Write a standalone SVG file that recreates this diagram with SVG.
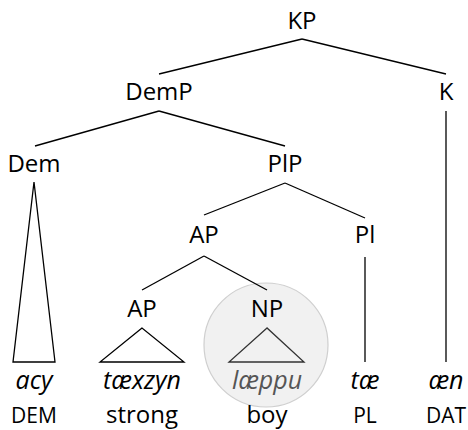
<svg xmlns="http://www.w3.org/2000/svg" width="468" height="430" viewBox="0 0 468 430">
<style>
text{font-family:"Open Sans","Noto Sans","DejaVu Sans",sans-serif;font-size:24px;fill:#000;text-anchor:middle}
.w{font-style:italic;font-size:25px}
.sc{font-size:21px}
.e{fill:none;stroke:#000;stroke-width:1.3}
</style>
<rect width="468" height="430" fill="#fff"/>
<circle id="highlight" cx="266" cy="345" r="62" fill="#f1f1f1" stroke="#cfcfcf" stroke-width="1.2"/>
<g id="edges" class="e">
<line x1="302" y1="39" x2="159" y2="74"/>
<line x1="302" y1="39" x2="446" y2="74"/>
<line x1="159" y1="111" x2="35" y2="146"/>
<line x1="159" y1="111" x2="285" y2="146"/>
<line x1="285" y1="183" x2="204" y2="215"/>
<line x1="285" y1="183" x2="365" y2="218"/>
<line x1="204" y1="256" x2="142" y2="290"/>
<line x1="204" y1="256" x2="267" y2="290"/>
<line x1="365" y1="257" x2="365" y2="362"/>
<line x1="446" y1="111" x2="446" y2="362"/>
<polygon points="34,182 13,362 55,362"/>
<polygon points="142,328 100,362 184,362"/>
<polygon points="267,328 229,362 304,362" stroke="#333"/>
</g>
<g id="KP"><text x="302" y="29">KP</text></g>
<g id="DemP"><text x="159" y="100">DemP</text></g>
<g id="K"><text x="446" y="100">K</text></g>
<g id="Dem"><text x="34" y="172">Dem</text></g>
<g id="PlP"><text x="285" y="172">PlP</text></g>
<g id="AP1"><text x="204" y="243">AP</text></g>
<g id="Pl"><text x="365" y="243">Pl</text></g>
<g id="AP2"><text x="142" y="317">AP</text></g>
<g id="NP"><text x="267" y="317">NP</text></g>
<g id="words">
<text class="w" x="34" y="389">acy</text>
<text class="w" x="142" y="389">tæxzyn</text>
<text class="w" x="267" y="389" style="fill:#555">læppu</text>
<text class="w" x="365" y="389">tæ</text>
<text class="w" x="446" y="389">æn</text>
</g>
<g id="glosses">
<text class="sc" x="34" y="423">DEM</text>
<text x="142" y="423">strong</text>
<text x="267" y="423">boy</text>
<text class="sc" x="365" y="423">PL</text>
<text class="sc" x="446" y="423">DAT</text>
</g>
</svg>
